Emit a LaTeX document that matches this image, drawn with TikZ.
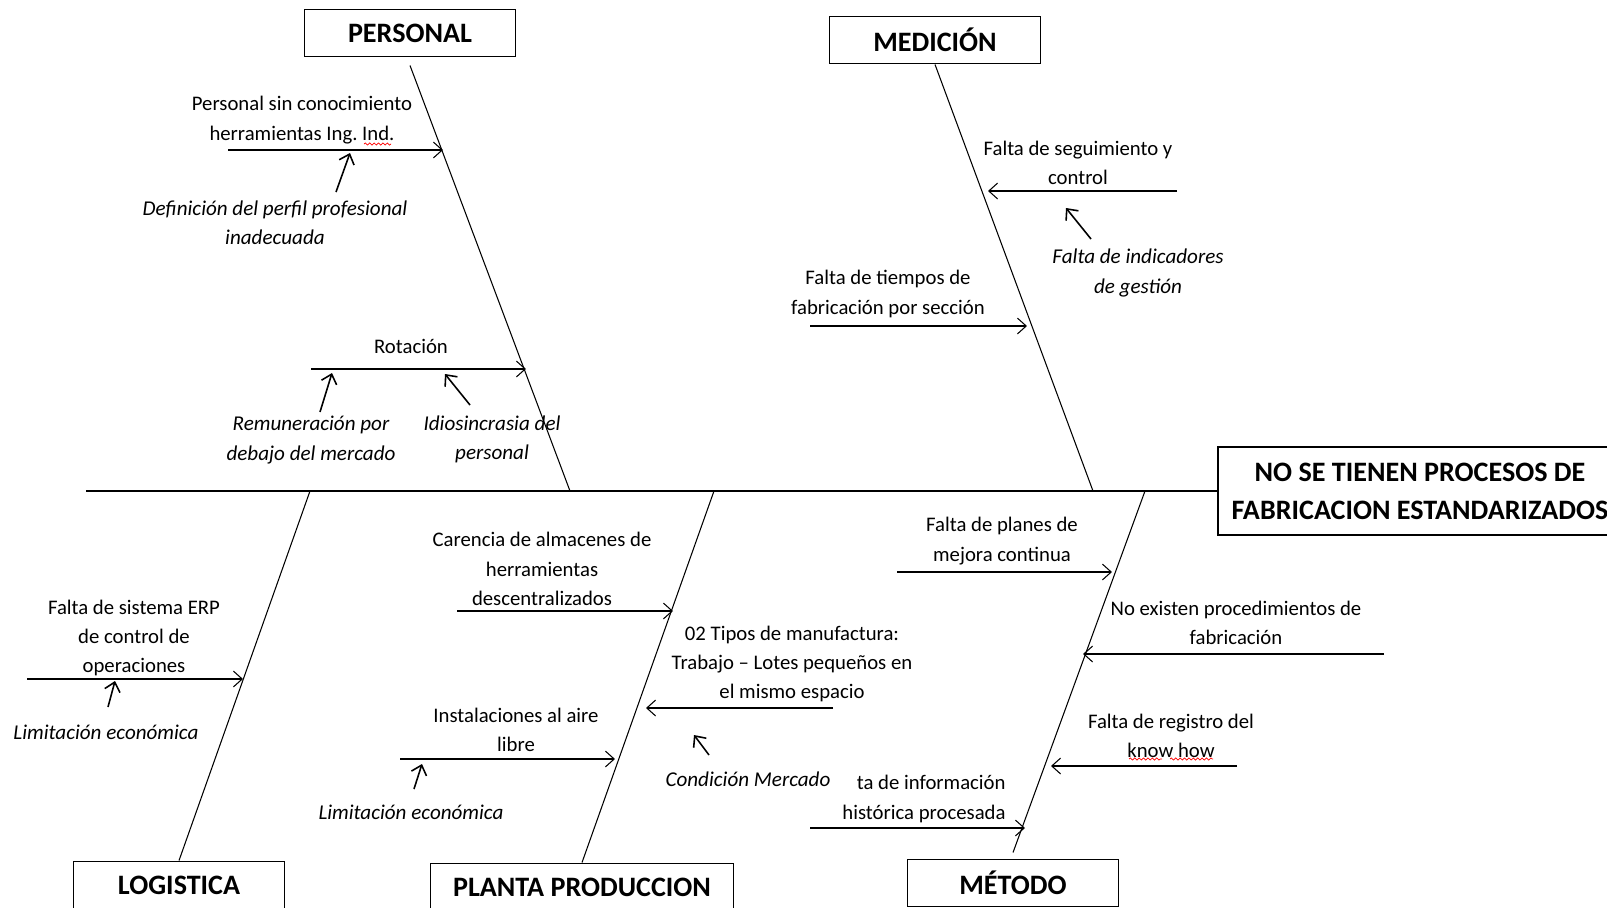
\documentclass[tikz,border=0pt]{standalone}
\usepackage{fontspec}
\setmainfont{Carlito}
\usetikzlibrary{arrows.meta, decorations.pathmorphing}
\frenchspacing

\begin{document}
\begin{tikzpicture}[
    x=0.02cm, y=-0.02cm,
    catbox/.style={draw, line width=0.8pt, minimum width=4.22cm, minimum height=0.95cm, font=\fontsize{16}{18}\selectfont\bfseries},
    cause/.style={align=center, inner sep=0pt, font=\fontsize{11.8}{16.6}\selectfont},
    subcause/.style={cause, font=\fontsize{12}{16.6}\selectfont\itshape},
    bone/.style={line width=0.6pt},
    arrow/.style={-{Straight Barb[length=5pt, width=9pt]}, line width=0.6pt},
    minor/.style={-{Straight Barb[length=5pt, width=9pt]}, line width=0.9pt},
    typo/.style={red, line width=0.4pt, decorate, decoration={snake, amplitude=0.6pt, segment length=2.5pt}}
]
    \useasboundingbox (0,0) rectangle (1607,907);
    \clip (0,0) rectangle (1607,907);

    % Effect and spine
    \node[draw, line width=0.8pt, minimum width=8.08cm, minimum height=1.76cm, align=center,
          font=\fontsize{16}{21.5}\selectfont\bfseries] (effect) at (1420,491)
          {NO SE TIENEN PROCESOS DE\\FABRICACION ESTANDARIZADOS};
    \coordinate (tail) at (86,491);
    \draw[bone] (tail) -- (effect.west);

    % Category boxes
    \node[catbox] (pers) at (410,33) {PERSONAL};
    \node[catbox] (med) at (935,40) {MEDICIÓN};
    \node[catbox] (logi) at (179,885) {LOGISTICA};
    \node[catbox, minimum width=6.06cm] (planta) at (582,887) {PLANTA PRODUCCION};
    \node[catbox] (met) at (1013,883) {MÉTODO};

    % Bones
    \coordinate (pb) at (570,491);
    \coordinate (mb) at (1093,491);
    \coordinate (lb) at (310,491);
    \coordinate (plb) at (714,491);
    \coordinate (mtb) at (1145,491);
    \draw[bone] ([yshift=-0.16cm]pers.south) -- (pb);
    \draw[bone] (med.south) -- (mb);
    \draw[bone] (lb) -- (logi.north);
    \draw[bone] (plb) -- (planta.north);
    \draw[bone] (mtb) -- ([yshift=0.12cm]met.north);

    % Personal
    \node[cause] (p1) at (302,120) {Personal sin conocimiento\\herramientas Ing. Ind.};
    \coordinate (p1s) at (228,150);
    \coordinate (p1e) at (443,150);
    \draw[arrow] (p1s) -- (p1e);
    \draw[typo] (364,144) -- (391,144);
    \node[subcause] (p1a) at (275,223) {Definición del perfil profesional\\inadecuada};
    \coordinate (p1as) at (336,192);
    \coordinate (p1ae) at (350,153);
    \draw[minor] (p1as) -- (p1ae);

    \node[cause] (p2) at (411,346) {Rotación};
    \coordinate (p2s) at (311,369);
    \coordinate (p2e) at (526,369);
    \draw[arrow] (p2s) -- (p2e);
    \node[subcause] (p2a) at (311,440) {Remuneración por\\debajo del mercado};
    \coordinate (p2as) at (320,412);
    \coordinate (p2ae) at (332,373);
    \draw[minor] (p2as) -- (p2ae);
    \node[subcause] (p2b) at (492,439) {Idiosincrasia del\\personal};
    \coordinate (p2bs) at (470,405);
    \coordinate (p2be) at (445,374);
    \draw[minor] (p2bs) -- (p2be);

    % Medicion
    \node[cause] (m1) at (1078,163) {Falta de seguimiento y\\control};
    \coordinate (m1s) at (1177,191);
    \coordinate (m1e) at (988,191);
    \draw[arrow] (m1s) -- (m1e);
    \node[subcause] (m1a) at (1138,273) {Falta de indicadores\\de gestión};
    \coordinate (m1as) at (1091,239);
    \coordinate (m1ae) at (1066,208);
    \draw[minor] (m1as) -- (m1ae);

    \node[cause] (m2) at (888,294) {Falta de tiempos de\\fabricación por sección};
    \coordinate (m2s) at (810,326);
    \coordinate (m2e) at (1027,326);
    \draw[arrow] (m2s) -- (m2e);

    % Logistica
    \node[cause] (l1) at (134,638) {Falta de sistema ERP\\de control de\\operaciones};
    \coordinate (l1s) at (27,679);
    \coordinate (l1e) at (243,679);
    \draw[arrow] (l1s) -- (l1e);
    \node[subcause] (l1a) at (106,732) {Limitación económica};
    \coordinate (l1as) at (108,707);
    \coordinate (l1ae) at (115,681);
    \draw[minor] (l1as) -- (l1ae);

    % Planta produccion
    \node[cause] (pl1) at (542,569) {Carencia de almacenes de\\herramientas\\descentralizados};
    \coordinate (pl1s) at (457,611);
    \coordinate (pl1e) at (673,611);
    \draw[arrow] (pl1s) -- (pl1e);

    \node[cause] (pl2) at (792,664) {02 Tipos de manufactura:\\Trabajo -- Lotes pequeños en\\el mismo espacio};
    \coordinate (pl2s) at (833,708);
    \coordinate (pl2e) at (646,708);
    \draw[arrow] (pl2s) -- (pl2e);
    \node[subcause] (pl2a) at (748,779) {Condición Mercado};
    \coordinate (pl2as) at (709,755);
    \coordinate (pl2ae) at (694,735);
    \draw[minor] (pl2as) -- (pl2ae);

    \node[cause] (pl3) at (516,730) {Instalaciones al aire\\libre};
    \coordinate (pl3s) at (400,759);
    \coordinate (pl3e) at (615,759);
    \draw[arrow] (pl3s) -- (pl3e);
    \node[subcause] (pl3a) at (411,812) {Limitación económica};
    \coordinate (pl3as) at (414,789);
    \coordinate (pl3ae) at (422,764);
    \draw[minor] (pl3as) -- (pl3ae);

    % Metodo
    \node[cause] (mt1) at (1002,541) {Falta de planes de\\mejora continua};
    \coordinate (mt1s) at (897,572);
    \coordinate (mt1e) at (1112,572);
    \draw[arrow] (mt1s) -- (mt1e);

    \node[cause] (mt2) at (1236,623) {No existen procedimientos de\\fabricación};
    \coordinate (mt2s) at (1384,654);
    \coordinate (mt2e) at (1083,654);
    \draw[arrow] (mt2s) -- (mt2e);

    \node[cause] (mt3) at (1171,736) {Falta de registro del\\know how};
    \coordinate (mt3s) at (1237,766);
    \coordinate (mt3e) at (1051,766);
    \draw[arrow] (mt3s) -- (mt3e);
    \draw[typo] (1129,759) -- (1162,759);
    \draw[typo] (1170,759) -- (1213,759);

    \node[cause, align=right] (mt4) at (924,799) {ta de información\\histórica procesada};
    \coordinate (mt4s) at (810,828);
    \coordinate (mt4e) at (1025,828);
    \draw[arrow] (mt4s) -- (mt4e);
\end{tikzpicture}
\end{document}
